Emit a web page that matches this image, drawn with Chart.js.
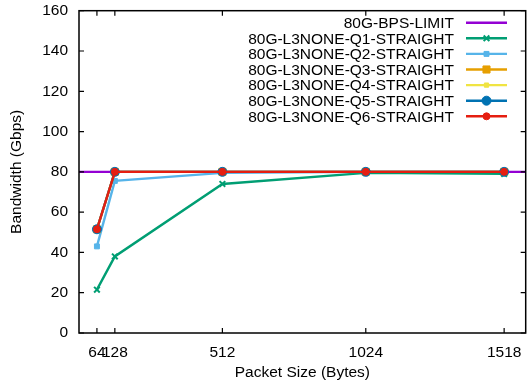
<!DOCTYPE html>
<html><head><meta charset="utf-8">
<script src="https://cdn.jsdelivr.net/npm/chart.js@4/dist/chart.umd.min.js"></script>
<style>html,body{margin:0;padding:0;background:#fff}#wrap{width:527px;height:387px}</style>
</head><body><div id="wrap"><canvas id="c" width="527" height="387"></canvas></div>
<script>
const packetSizes = [64, 128, 512, 1024, 1518];
const xTickValues = [64, 128, 512, 1024, 1518];
const xRange = [0, 1595];
const limitY = [80, 80];
const q1 = [21.5, 38, 74, 79.5, 79];
const q2 = [43, 75.5, 79.5, 80, 80];
const q3 = [51.5, 80, 80, 80, 80];
const q4 = [51.5, 80, 80, 80, 80];
const q5 = [51.5, 80, 80, 80, 80];
const q6 = [51.5, 80, 80, 80, 80];
const labels = ['80G-BPS-LIMIT','80G-L3NONE-Q1-STRAIGHT','80G-L3NONE-Q2-STRAIGHT','80G-L3NONE-Q3-STRAIGHT','80G-L3NONE-Q4-STRAIGHT','80G-L3NONE-Q5-STRAIGHT','80G-L3NONE-Q6-STRAIGHT'];
const colors = ['#9400d3','#009e73','#56b4e9','#e69f00','#f0e442','#0072b2','#e51e10'];
const styles = [
  {ps:false, r:0},
  {ps:'crossRot', r:4},
  {ps:'rect', r:3.5},
  {ps:'rect', r:5},
  {ps:'rect', r:3},
  {ps:'circle', r:4.5},
  {ps:'circle', r:3.5}
];
const series = [null, q1, q2, q3, q4, q5, q6];

const datasets = labels.map((lab, i) => {
  const data = i === 0 ? xRange.map((x, k) => ({x, y: limitY[k]})) : packetSizes.map((x, k) => ({x, y: series[i][k]}));
  return {
    label: lab, data,
    borderColor: colors[i], backgroundColor: colors[i],
    borderWidth: 2.4,
    pointStyle: styles[i].ps || 'circle',
    pointRadius: styles[i].r, pointHoverRadius: styles[i].r,
    pointBorderWidth: styles[i].ps === 'crossRot' ? 2 : 1,
    order: 6 - i, tension: 0, clip: false
  };
});

const F = "'Liberation Sans', Arial, sans-serif";
Chart.defaults.font.family = F;
Chart.defaults.font.size = 15;
Chart.defaults.color = '#000';

const framePlugin = {
  id: 'frame',
  afterDatasetsDraw(chart) {
    const {ctx, chartArea: a, scales} = chart;
    ctx.save();
    ctx.strokeStyle = '#000'; ctx.lineWidth = 1.5;
    ctx.strokeRect(a.left, a.top, a.right - a.left, a.bottom - a.top);
    const L = 5;
    ctx.beginPath();
    xTickValues.forEach(v => {
      const px = scales.x.getPixelForValue(v);
      ctx.moveTo(px, a.bottom); ctx.lineTo(px, a.bottom - L);
      ctx.moveTo(px, a.top); ctx.lineTo(px, a.top + L);
    });
    scales.y.ticks.forEach(t => {
      const py = scales.y.getPixelForValue(t.value);
      ctx.moveTo(a.left, py); ctx.lineTo(a.left + L, py);
      ctx.moveTo(a.right, py); ctx.lineTo(a.right - L, py);
    });
    ctx.lineWidth = 1.2;
    ctx.stroke();
    ctx.font = '15.5px ' + F;
    ctx.textAlign = 'right'; ctx.textBaseline = 'middle';
    const textRight = 454, x0 = 466, x1 = 507, top = 22.7, step = 15.6;
    chart.data.datasets.forEach((ds, i) => {
      const y = top + i * step;
      ctx.fillStyle = '#000';
      ctx.fillText(ds.label, textRight, y + 1);
      ctx.strokeStyle = ds.borderColor; ctx.lineWidth = ds.borderWidth;
      ctx.beginPath(); ctx.moveTo(x0, y); ctx.lineTo(x1, y); ctx.stroke();
      if (ds.pointRadius > 0) {
        ctx.fillStyle = ds.backgroundColor;
        ctx.strokeStyle = ds.borderColor;
        ctx.lineWidth = ds.pointBorderWidth;
        Chart.helpers.drawPoint(ctx, {pointStyle: ds.pointStyle, radius: ds.pointRadius, borderWidth: ds.pointBorderWidth, rotation: 0}, (x0 + x1) / 2, y);
      }
    });
    ctx.restore();
  }
};

new Chart(document.getElementById('c'), {
  type: 'line',
  data: {datasets},
  options: {
    responsive: false, animation: false,
    layout: {autoPadding: false, padding: {top: 10.7, right: 1.3, left: 0, bottom: 0}},
    plugins: {legend: {display: false}, tooltip: {enabled: false}},
    scales: {
      x: {
        type: 'linear', min: xRange[0], max: xRange[1],
        afterBuildTicks: s => { s.ticks = xTickValues.map(v => ({value: v})); },
        ticks: {autoSkip: false, maxRotation: 0, padding: 10, font: {size: 15.5}, callback: v => String(v)},
        grid: {display: false, drawTicks: false},
        border: {display: false},
        afterFit: s => { s.height = 54; s.paddingLeft = 0; s.paddingRight = 0; },
        title: {display: true, text: 'Packet Size (Bytes)', font: {size: 15.5}, padding: {top: 4, bottom: 5}}
      },
      y: {
        min: 0, max: 160,
        ticks: {stepSize: 20, padding: 11, font: {size: 15.5}},
        grid: {display: false, drawTicks: false},
        border: {display: false},
        afterFit: s => { s.width = 79; s.paddingTop = 0; s.paddingBottom = 0; },
        title: {display: true, text: 'Bandwidth (Gbps)', font: {size: 15.5}, padding: {top: 7.5, bottom: 4}}
      }
    }
  },
  plugins: [framePlugin]
});
</script></body></html>
